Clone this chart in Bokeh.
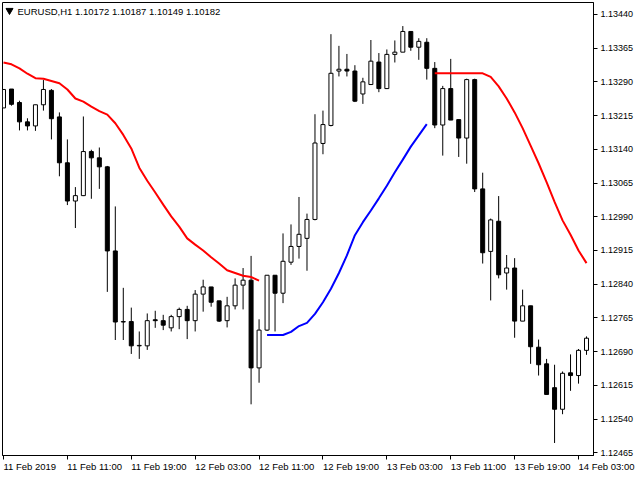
from bokeh.plotting import figure
from bokeh.models import Range1d, FixedTicker, Label, PrintfTickFormatter, ColumnDataSource
from bokeh.embed import file_html
from bokeh.resources import INLINE

# ---------------- data (EURUSD H1) ----------------
opens = [1.13232, 1.13274, 1.13244, 1.13201, 1.13192, 1.13239, 1.13271, 1.13212, 1.13110, 1.13025,
         1.13037, 1.13135, 1.13121, 1.13101, 1.12914, 1.12756, 1.12757, 1.12703, 1.12703, 1.12761,
         1.12759, 1.12743, 1.12768, 1.12784, 1.12759, 1.12818, 1.12834, 1.12803, 1.12759, 1.12792,
         1.12838, 1.12849, 1.12654, 1.12738, 1.12860, 1.12820, 1.12889, 1.12924, 1.12942, 1.12984,
         1.13153, 1.13193, 1.13314, 1.13318, 1.13314, 1.13263, 1.13284, 1.13334, 1.13275, 1.13351,
         1.13356, 1.13402, 1.13367, 1.13378, 1.13320, 1.13194, 1.13275, 1.13206, 1.13165, 1.13295,
         1.13052, 1.12913, 1.12980, 1.12865, 1.12876, 1.12758, 1.12792, 1.12700, 1.12663, 1.12610,
         1.12562, 1.12643, 1.12637, 1.12693]
highs = [1.13273, 1.13274, 1.13248, 1.13209, 1.13239, 1.13294, 1.13274, 1.13222, 1.13162, 1.13056,
         1.13213, 1.13139, 1.13144, 1.13103, 1.13013, 1.12832, 1.12788, 1.12735, 1.12775, 1.12781,
         1.12772, 1.12772, 1.12788, 1.12792, 1.12827, 1.12850, 1.12834, 1.12803, 1.12812, 1.12853,
         1.12876, 1.12903, 1.12762, 1.12860, 1.12860, 1.12953, 1.12973, 1.13034, 1.12997, 1.13218,
         1.13226, 1.13396, 1.13370, 1.13352, 1.13327, 1.13299, 1.13383, 1.13354, 1.13362, 1.13382,
         1.13414, 1.13402, 1.13387, 1.13387, 1.13334, 1.13281, 1.13341, 1.13206, 1.13297, 1.13297,
         1.13088, 1.12986, 1.13036, 1.12905, 1.12898, 1.12828, 1.12792, 1.12717, 1.12674, 1.12661,
         1.12646, 1.12684, 1.12696, 1.12724]
lows = [1.13232, 1.13237, 1.13182, 1.13182, 1.13181, 1.13226, 1.13162, 1.13080, 1.13016, 1.12965,
        1.13036, 1.13030, 1.13052, 1.12823, 1.12716, 1.12716, 1.12685, 1.12674, 1.12694, 1.12743,
        1.12738, 1.12735, 1.12740, 1.12718, 1.12735, 1.12779, 1.12790, 1.12756, 1.12744, 1.12784,
        1.12784, 1.12573, 1.12621, 1.12736, 1.12735, 1.12798, 1.12883, 1.12897, 1.12870, 1.12982,
        1.13129, 1.13191, 1.13302, 1.13302, 1.13245, 1.13241, 1.13283, 1.13267, 1.13274, 1.13333,
        1.13356, 1.13359, 1.13339, 1.13295, 1.13187, 1.13126, 1.13205, 1.13123, 1.13108, 1.13045,
        1.12886, 1.12804, 1.12853, 1.12828, 1.12721, 1.12758, 1.12663, 1.12637, 1.12595, 1.12487,
        1.12551, 1.12603, 1.12619, 1.12683]
closes = [1.13273, 1.13240, 1.13201, 1.13192, 1.13239, 1.13273, 1.13208, 1.13110, 1.13025, 1.13037,
          1.13135, 1.13121, 1.13101, 1.12914, 1.12756, 1.12757, 1.12703, 1.12704, 1.12759, 1.12759,
          1.12749, 1.12768, 1.12784, 1.12759, 1.12818, 1.12834, 1.12800, 1.12758, 1.12792, 1.12838,
          1.12849, 1.12654, 1.12738, 1.12860, 1.12820, 1.12891, 1.12924, 1.12951, 1.12984, 1.13154,
          1.13195, 1.13309, 1.13318, 1.13314, 1.13247, 1.13290, 1.13336, 1.13275, 1.13351, 1.13356,
          1.13402, 1.13367, 1.13380, 1.13320, 1.13194, 1.13275, 1.13205, 1.13165, 1.13295, 1.13052,
          1.12910, 1.12983, 1.12861, 1.12876, 1.12758, 1.12792, 1.12701, 1.12661, 1.12595, 1.12562,
          1.12642, 1.12637, 1.12693, 1.12720]

NaN = float("nan")
# red trend line (resistance) and blue trend line (support)
trend_red = [1.13333, 1.13329, 1.13320, 1.13308, 1.13298, 1.13297, 1.13292, 1.13287, 1.13273, 1.13253,
             1.13246, 1.13235, 1.13225, 1.13217, 1.13198, 1.13172, 1.13142, 1.13099, 1.13070, 1.13044,
             1.13017, 1.12991, 1.12968, 1.12942, 1.12928, 1.12915, 1.12900, 1.12886, 1.12871, 1.12865,
             1.12859, 1.12856, 1.12848] + [NaN] * 21 + \
            [1.13309, 1.13309, 1.13309, 1.13309, 1.13309, 1.13309, 1.13309, 1.13301, 1.13280, 1.13253,
             1.13222, 1.13187, 1.13148, 1.13109, 1.13067, 1.13023, 1.12982, 1.12950, 1.12915, 1.12887]
trend_blue = [NaN] * 33 + \
             [1.12727, 1.12727, 1.12727, 1.12734, 1.12747, 1.12754, 1.12774, 1.12800, 1.12830, 1.12865,
              1.12904, 1.12949, 1.12978, 1.13004, 1.13031, 1.13059, 1.13089, 1.13117, 1.13146, 1.13171,
              1.13196] + [NaN] * 20

price_ticks = [1.12465, 1.12540, 1.12615, 1.12690, 1.12765, 1.12840, 1.12915, 1.12990,
               1.13065, 1.13140, 1.13215, 1.13290, 1.13365, 1.13440]
time_tick_bars = [0, 8, 16, 24, 32, 40, 48, 56, 64, 72]
time_labels = ["11 Feb 2019", "11 Feb 11:00", "11 Feb 19:00", "12 Feb 03:00", "12 Feb 11:00",
               "12 Feb 19:00", "13 Feb 03:00", "13 Feb 11:00", "13 Feb 19:00", "14 Feb 03:00"]
header = "EURUSD,H1  1.10172 1.10187 1.10149 1.10182"

# ---------------- figure ----------------
n = len(opens)
xs = list(range(n))
x_start, x_end = -0.125, n - 0.125
y_start, y_end = 1.124592, 1.134664
FONT = "Liberation Sans"

p = figure(width=640, height=480, output_backend="svg", toolbar_location=None,
           x_range=Range1d(x_start, x_end), y_range=Range1d(y_start, y_end),
           y_axis_location="right",
           min_border_left=2, min_border_top=2, min_border_bottom=21, min_border_right=47)
p.background_fill_color = "white"
p.border_fill_color = "white"
p.outline_line_color = "black"
p.outline_line_width = 1
p.xgrid.visible = False
p.ygrid.visible = False

# right price axis
ya = p.yaxis[0]
ya.ticker = FixedTicker(ticks=price_ticks)
ya.formatter = PrintfTickFormatter(format="%.5f")
ya.major_tick_in = 0
ya.major_tick_out = 4
ya.minor_tick_line_color = None
ya.axis_line_color = "black"
ya.major_tick_line_color = "black"
ya.major_label_text_font = FONT
ya.major_label_text_font_size = "9px"
ya.major_label_text_color = "black"
ya.major_label_standoff = 3

# bottom time axis: labels start at their tick (tiny angle -> left aligned)
xa = p.xaxis[0]
xa.ticker = FixedTicker(ticks=time_tick_bars)
xa.major_label_overrides = {b: t for b, t in zip(time_tick_bars, time_labels)}
xa.major_label_orientation = -1e-4
xa.major_tick_in = 0
xa.major_tick_out = 4
xa.minor_tick_line_color = None
xa.axis_line_color = "black"
xa.major_tick_line_color = "black"
xa.major_label_text_font = FONT
xa.major_label_text_font_size = "9.5px"
xa.major_label_text_color = "black"
xa.major_label_standoff = 7

# candles
bull = [c >= o for o, c in zip(opens, closes)]
src = ColumnDataSource(dict(
    x=xs, high=highs, low=lows,
    top=[max(o, c) for o, c in zip(opens, closes)],
    bottom=[min(o, c) for o, c in zip(opens, closes)],
    fill=["white" if b else "black" for b in bull],
))
p.segment(x0="x", y0="low", x1="x", y1="high", source=src, line_color="black", line_width=1)
p.vbar(x="x", width=0.5, top="top", bottom="bottom", source=src,
       fill_color="fill", line_color="black", line_width=1)

# trend lines
p.line(xs, trend_red, line_color="#FF0000", line_width=2)
p.line(xs, trend_blue, line_color="#0000FF", line_width=2)

# header
px_per_bar = 591.0 / (x_end - x_start)
px_per_price = 457.0 / (y_end - y_start)
p.scatter(x=[x_start + 7.0 / px_per_bar], y=[y_end - 8.0 / px_per_price],
          marker="inverted_triangle", size=7, fill_color="black", line_color="black")
p.add_layout(Label(x=x_start, y=y_end, x_units="data", y_units="data", text=header,
                   x_offset=15, y_offset=-3, text_align="left", text_baseline="top",
                   text_font=FONT, text_font_size="9.5px", text_color="black"))

open("out.html", "w").write(file_html(p, INLINE))
